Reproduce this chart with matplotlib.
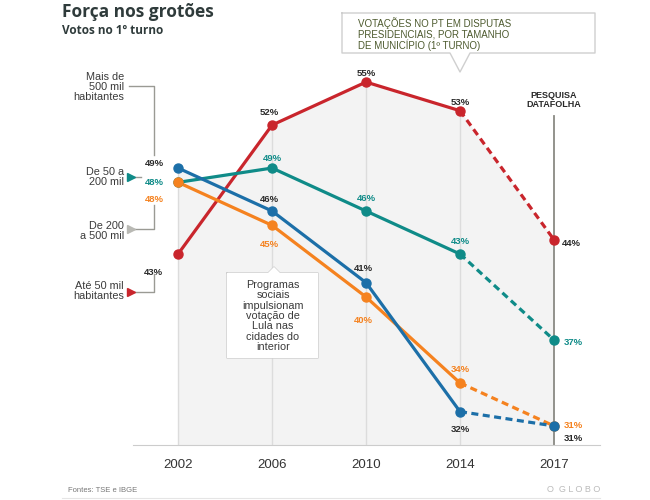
import matplotlib.pyplot as plt
import numpy as np

# dados
anos = ['2002', '2006', '2010', '2014', '2017']
ate_50 = [43, 52, 55, 53, 44]          # vermelho
de_50_200 = [48, 49, 46, 43, 37]       # verde-azulado
de_200_500 = [48, 45, 40, 34, 31]      # laranja
mais_500 = [49, 46, 41, 32, 31]        # azul

series = [
    (ate_50, '#c9252c'),
    (de_50_200, '#0f8b88'),
    (de_200_500, '#f5821f'),
    (mais_500, '#1c6fa8'),
]

plt.rcParams['font.family'] = ['Liberation Sans', 'DejaVu Sans']

W, H = 650, 500
fig = plt.figure(figsize=(6.5, 5), dpi=100)

def fx(x):
    return x / W

def fy(y):
    return 1 - y / H

ax = fig.add_axes([fx(133), fy(445), fx(600) - fx(133), fy(60) - fy(445)])
x = np.arange(len(anos))
ax.set_xlim(-0.48, 4.49)
ax.set_ylim(29.67, 56.54)

# fundo cinza sob o envelope das linhas
xf = np.linspace(0, 4, 801)
envelope = np.max([np.interp(xf, x, s) for s, c in series], axis=0)
ax.fill_between(xf, 29.67, envelope, color='#f3f3f3', zorder=0, lw=0)
topo = np.max(np.array([s for s, c in series]), axis=0)

# linhas verticais
for i in range(4):
    ax.plot([i, i], [29.67, topo[i]], color='#dcdcdc', lw=1, zorder=1)
ax.plot([4, 4], [29.67, 52.6], color='#8a8a84', lw=1.3, zorder=1)

for vals, cor in series:
    ax.plot(x[:4], vals[:4], color=cor, lw=2.3, zorder=3, solid_capstyle='round')
    ax.plot(x[3:], vals[3:], color=cor, lw=2.3, ls=(0, (2.2, 1.4)), zorder=3)
    ax.plot(x, vals, 'o', color=cor, ms=6.5, zorder=4)

# rótulos de percentual: (serie, indice, dx, dy, cor do texto)
escuro = '#2a2a2a'
rotulos = [
    (ate_50, 0, -11, -13, escuro, 'right'),
    (ate_50, 1, -2, 9, escuro, 'center'),
    (ate_50, 2, 0, 6, escuro, 'center'),
    (ate_50, 3, 0, 6, escuro, 'center'),
    (ate_50, 4, 6, -3, escuro, 'left'),
    (de_50_200, 0, -10, 0, '#0f8b88', 'right'),
    (de_50_200, 1, 0, 7, '#0f8b88', 'center'),
    (de_50_200, 2, 0, 9, '#0f8b88', 'center'),
    (de_50_200, 3, 0, 9, '#0f8b88', 'center'),
    (de_50_200, 4, 7, -2, '#0f8b88', 'left'),
    (de_200_500, 0, -10, -12, '#f5821f', 'right'),
    (de_200_500, 1, -2, -14, '#f5821f', 'center'),
    (de_200_500, 2, -2, -17, '#f5821f', 'center'),
    (de_200_500, 3, 0, 10, '#f5821f', 'center'),
    (de_200_500, 4, 7, 0, '#f5821f', 'left'),
    (mais_500, 0, -10, 3, escuro, 'right'),
    (mais_500, 1, -2, 8, escuro, 'center'),
    (mais_500, 2, -2, 10, escuro, 'center'),
    (mais_500, 3, 0, -13, escuro, 'center'),
    (mais_500, 4, 7, -9, escuro, 'left'),
]
for vals, i, dx, dy, cor, ha in rotulos:
    ax.annotate(f'{vals[i]}%', (x[i], vals[i]), xytext=(dx, dy),
                textcoords='offset points', ha=ha, va='center',
                fontsize=6.8, fontweight='bold', color=cor, zorder=5)

ax.set_xticks(x)
ax.set_xticklabels(anos, fontsize=9.5, color='#333333')
ax.tick_params(axis='x', length=0, pad=10)
ax.set_yticks([])
for lado in ['top', 'right', 'left']:
    ax.spines[lado].set_visible(False)
ax.spines['bottom'].set_color('#cccccc')
ax.patch.set_alpha(0)

# títulos
fig.text(fx(62), fy(12), 'Força nos grotões', fontsize=12.5, fontweight='bold',
         color='#2f3b3b', va='center', family=['Open Sans', 'DejaVu Sans'])
fig.text(fx(62), fy(30), 'Votos no 1º turno', fontsize=8.5, fontweight='bold',
         color='#2f3b3b', va='center', family=['Open Sans', 'DejaVu Sans'])

# legenda à esquerda
cinza_leg = '#9a9a94'
txt_leg = '#3a3a3a'
fig.text(fx(124), fy(87), 'Mais de\n500 mil\nhabitantes', ha='right', va='center',
         fontsize=7.8, color=txt_leg, linespacing=1.05)
fig.add_artist(plt.Line2D([fx(129), fx(154), fx(154)], [fy(86), fy(86), fy(155)],
                          color=cinza_leg, lw=1))
fig.text(fx(124), fy(177), 'De 50 a\n200 mil', ha='right', va='center',
         fontsize=7.8, color=txt_leg, linespacing=1.05)
fig.add_artist(plt.Line2D([fx(131), fx(141)], [fy(177), fy(177)], color=cinza_leg, lw=1))
fig.add_artist(plt.Line2D([fx(131)], [fy(177)], marker='>', color='#0f8b88', ms=6))
fig.text(fx(124), fy(231), 'De 200\na 500 mil', ha='right', va='center',
         fontsize=7.8, color=txt_leg, linespacing=1.05)
fig.add_artist(plt.Line2D([fx(131), fx(154), fx(154)], [fy(229), fy(229), fy(205)],
                          color=cinza_leg, lw=1))
fig.add_artist(plt.Line2D([fx(131)], [fy(229)], marker='>', color='#b9b9b4', ms=6))
fig.text(fx(124), fy(291), 'Até 50 mil\nhabitantes', ha='right', va='center',
         fontsize=7.8, color=txt_leg, linespacing=1.05)
fig.add_artist(plt.Line2D([fx(131), fx(154), fx(154)], [fy(292), fy(292), fy(274)],
                          color=cinza_leg, lw=1))
fig.add_artist(plt.Line2D([fx(131)], [fy(292)], marker='>', color='#c9252c', ms=6))

# caixa superior
caixa = [(342, 13), (595, 13), (595, 53), (470, 53), (460, 72), (450, 53), (342, 53), (342, 13)]
fig.add_artist(plt.Line2D([fx(a) for a, b in caixa], [fy(b) for a, b in caixa],
                          color='#cfcfcf', lw=1))
fig.text(fx(358), fy(34), 'VOTAÇÕES NO PT EM DISPUTAS\nPRESIDENCIAIS, POR TAMANHO\nDE MUNICÍPIO (1º TURNO)',
         ha='left', va='center', fontsize=7, color='#4d5a2e', linespacing=1.0)

# caixa do meio
caixa2 = [(227, 273), (268, 273), (274, 267), (280, 273), (318, 273), (318, 358),
          (227, 358), (227, 273)]
fig.add_artist(plt.Line2D([fx(a) for a, b in caixa2], [fy(b) for a, b in caixa2],
                          color='#cfcfcf', lw=1))
fig.patches.append(plt.Polygon([(fx(a), fy(b)) for a, b in caixa2], closed=True,
                               transform=fig.transFigure, facecolor='white',
                               edgecolor='none', zorder=2.5))
fig.text(fx(273), fy(316), 'Programas\nsociais\nimpulsionam\nvotação de\nLula nas\ncidades do\ninterior',
         ha='center', va='center', fontsize=7.8, color='#3a3a3a', linespacing=1.05,
         zorder=3)

fig.text(fx(554), fy(100), 'PESQUISA\nDATAFOLHA', ha='center', va='center',
         fontsize=6.5, fontweight='bold', color='#2a2a2a', linespacing=1.1)

# rodapé
fig.text(fx(68), fy(490), 'Fontes: TSE e IBGE', fontsize=5.5, color='#777777', va='center')
fig.text(fx(600), fy(490), 'O  G L O B O', fontsize=6.5, color='#bbbbbb', va='center', ha='right')
fig.add_artist(plt.Line2D([fx(62), fx(600)], [fy(498), fy(498)], color='#e5e5e5', lw=0.8))

fig.savefig('out.png', dpi=100)
